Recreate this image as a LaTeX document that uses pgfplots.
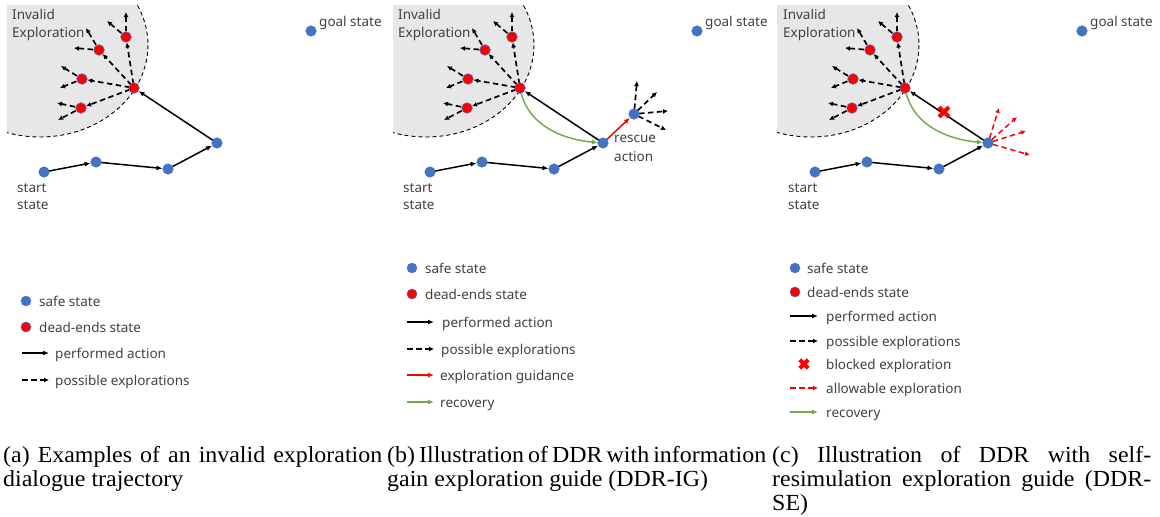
\documentclass[border=0pt]{standalone}
\usepackage{fontspec}
\setmainfont{Liberation Serif}
\newfontfamily\diagfont{Noto Sans}
\newfontfamily\capfont{Liberation Serif}[FakeStretch=1.04]
\usepackage{pgfplots}
\usepackage{pgfplotstable}
\pgfplotsset{compat=1.18}
\usetikzlibrary{arrows.meta}

\definecolor{nodeblue}{RGB}{68,114,196}
\definecolor{deadred}{RGB}{255,0,0}
\definecolor{recgreen}{RGB}{112,173,71}
\definecolor{regiongray}{RGB}{231,231,231}
\definecolor{txt}{RGB}{64,64,64}

% node positions of panel (a); panels (b) and (c) are shifted by 386 and 771
\pgfplotstableread{
x y
44 172
96 162
168 169
217 143
311 31
}\safe
\pgfplotstableread{
x y
134 88
126 37
99 50
82 79
81 108
}\dead
% arrows: start point and offset
\pgfplotstableread{
x y u v
44 172 52 -10
96 162 72 7
168 169 49 -26
217 143 -83 -55
}\performed
\pgfplotstableread{
x y u v
134 88 -8 -51
134 88 -35 -38
134 88 -52 -9
134 88 -53 20
}\firstexpl
\pgfplotstableread{
x y u v
126 37 0 -25
126 37 -19 -16
99 50 -13 -22
99 50 -25 -2
82 79 -21 -13
82 79 -22 9
81 108 -24 -5
81 108 -23 12
}\secondexpl
\pgfplotstableread{
x y u v
634 114 3 -33
634 114 23 -22
634 114 34 -3
634 114 32 16
}\rescueexpl
\pgfplotstableread{
x y u v
988 143 11 -35
988 143 29 -26
988 143 38 -12
988 143 42 12
}\allowexpl

\tikzset{
  perf/.style={black, line width=1.5pt, -{Latex[length=6pt,width=5pt]}},
  expl/.style={black, line width=1.7pt, dash pattern=on 5.5pt off 3.5pt, -{Latex[length=5pt,width=5pt]}},
  allow/.style={deadred, line width=1.5pt, dash pattern=on 5.5pt off 3.5pt, -{Latex[length=5pt,width=5pt]}},
  guide/.style={deadred, line width=1.5pt, -{Latex[length=6pt,width=5pt]}},
  recov/.style={recgreen, line width=1.5pt, -{Latex[length=6pt,width=5pt]}},
  regionline/.style={draw=black, fill=regiongray, line width=0.9pt, dash pattern=on 4pt off 3pt},
  lbl/.style={anchor=base west, inner sep=0pt, text=txt, font=\diagfont\fontsize{13.5}{16}\selectfont},
  captxt/.style={anchor=base west, inner sep=0pt, text=black, font=\capfont\fontsize{23}{24}\selectfont},
}
\newcommand\capline[1]{\hbox to 379pt{\spaceskip=0.25em plus 0.6em minus 0.2em #1}}

\begin{document}
\begin{tikzpicture}
\begin{axis}[
  width=1160pt, height=517pt, scale only axis,
  xmin=0, xmax=1160, ymin=0, ymax=517, y dir=reverse,
  hide axis, clip=false,
]
% invalid exploration regions
\begin{scope}
\clip (axis cs:7,5) rectangle (axis cs:200,200);
\draw[regionline] (axis cs:40,45) ellipse [x radius=108, y radius=92];
\end{scope}
\begin{scope}
\clip (axis cs:393,5) rectangle (axis cs:586,200);
\draw[regionline] (axis cs:426,45) ellipse [x radius=108, y radius=92];
\end{scope}
\begin{scope}
\clip (axis cs:777,5) rectangle (axis cs:970,200);
\draw[regionline] (axis cs:811,45) ellipse [x radius=108, y radius=92];
\end{scope}

% shared arrows
\pgfplotsinvokeforeach{0,386,771}{
  \addplot[perf, shorten <=3pt, shorten >=5.5pt, quiver={u=\thisrow{u}, v=\thisrow{v}}]
    table[x expr=\thisrow{x}+#1, y=y] {\performed};
  \addplot[expl, shorten <=4pt, shorten >=5.5pt, quiver={u=\thisrow{u}, v=\thisrow{v}}]
    table[x expr=\thisrow{x}+#1, y=y] {\firstexpl};
  \addplot[expl, shorten <=6pt, quiver={u=\thisrow{u}, v=\thisrow{v}}]
    table[x expr=\thisrow{x}+#1, y=y] {\secondexpl};
}
% panel (b)
\draw[recov, shorten >=5pt] (axis cs:520,88) to[out=-80, in=175] (axis cs:603,143);
\addplot[guide, shorten <=4pt, shorten >=5.5pt] coordinates {(603,143) (634,114)};
\addplot[expl, shorten <=5pt, quiver={u=\thisrow{u}, v=\thisrow{v}}] table[x=x, y=y] {\rescueexpl};
% panel (c)
\draw[recov, shorten >=5pt] (axis cs:905,88) to[out=-80, in=175] (axis cs:988,143);
\addplot[allow, shorten <=5pt, quiver={u=\thisrow{u}, v=\thisrow{v}}] table[x=x, y=y] {\allowexpl};
\addplot[only marks, mark=x, mark size=7pt, mark options={draw=deadred, line width=4pt}] coordinates {(944,112)};

% states
\pgfplotsinvokeforeach{0,386,771}{
  \addplot[only marks, mark=*, mark size=5.3pt, mark options={fill=nodeblue, draw=nodeblue}]
    table[x expr=\thisrow{x}+#1, y=y] {\safe};
  \addplot[only marks, mark=*, mark size=5.3pt, mark options={fill=deadred, draw=nodeblue, line width=0.6pt}]
    table[x expr=\thisrow{x}+#1, y=y] {\dead};
}
\addplot[only marks, mark=*, mark size=5.3pt, mark options={fill=nodeblue, draw=nodeblue}] coordinates {(634,114)};

% labels
\node[lbl] at (axis cs:12,19) {Invalid};
\node[lbl] at (axis cs:12,37) {Exploration};
\node[lbl] at (axis cs:319,26) {goal state};
\node[lbl] at (axis cs:17,192) {start};
\node[lbl] at (axis cs:17,209) {state};
\node[lbl] at (axis cs:398,19) {Invalid};
\node[lbl] at (axis cs:398,37) {Exploration};
\node[lbl] at (axis cs:705,26) {goal state};
\node[lbl] at (axis cs:403,192) {start};
\node[lbl] at (axis cs:403,209) {state};
\node[lbl] at (axis cs:614,142) {rescue};
\node[lbl] at (axis cs:614,161) {action};
\node[lbl] at (axis cs:783,19) {Invalid};
\node[lbl] at (axis cs:783,37) {Exploration};
\node[lbl] at (axis cs:1090,26) {goal state};
\node[lbl] at (axis cs:788,192) {start};
\node[lbl] at (axis cs:788,209) {state};

% legend (a)
\addplot[only marks, mark=*, mark size=5pt, mark options={fill=nodeblue, draw=nodeblue}] coordinates {(26,301) (412,268) (795,268)};
\addplot[only marks, mark=*, mark size=5pt, mark options={fill=deadred, draw=nodeblue, line width=0.6pt}] coordinates {(26,327) (412,294) (795,292)};
\addplot[perf, line width=1.2pt] coordinates {(22,353) (49,353)};
\addplot[expl, line width=1.3pt] coordinates {(22,380) (49,380)};
\node[lbl] at (axis cs:39,306) {safe state};
\node[lbl] at (axis cs:39,332) {dead-ends state};
\node[lbl] at (axis cs:55,358) {performed action};
\node[lbl] at (axis cs:55,385) {possible explorations};
% legend (b)
\addplot[perf, line width=1.2pt] coordinates {(407,322) (434,322)};
\addplot[expl, line width=1.3pt] coordinates {(407,349) (434,349)};
\addplot[guide, line width=1.2pt] coordinates {(407,375) (434,375)};
\addplot[recov, line width=1.2pt] coordinates {(407,402) (434,402)};
\node[lbl] at (axis cs:425,273) {safe state};
\node[lbl] at (axis cs:425,299) {dead-ends state};
\node[lbl] at (axis cs:442,327) {performed action};
\node[lbl] at (axis cs:441,354) {possible explorations};
\node[lbl] at (axis cs:440,380) {exploration guidance};
\node[lbl] at (axis cs:440,407) {recovery};
% legend (c)
\addplot[perf, line width=1.2pt] coordinates {(790,316) (818,316)};
\addplot[expl, line width=1.3pt] coordinates {(790,341) (818,341)};
\addplot[only marks, mark=x, mark size=6pt, mark options={draw=deadred, line width=4pt}] coordinates {(804,364)};
\addplot[allow, line width=1.3pt] coordinates {(790,388) (818,388)};
\addplot[recov, line width=1.2pt] coordinates {(790,412) (818,412)};
\node[lbl] at (axis cs:807,273) {safe state};
\node[lbl] at (axis cs:807,297) {dead-ends state};
\node[lbl] at (axis cs:826,321) {performed action};
\node[lbl] at (axis cs:826,346) {possible explorations};
\node[lbl] at (axis cs:826,369) {blocked exploration};
\node[lbl] at (axis cs:826,393) {allowable exploration};
\node[lbl] at (axis cs:826,417) {recovery};

% captions
\node[captxt] at (axis cs:3,462) {\capline{(a) Examples of an invalid exploration}};
\node[captxt] at (axis cs:3,486) {dialogue trajectory};
\node[captxt] at (axis cs:387,462) {\capline{(b) Illustration of DDR with information}};
\node[captxt] at (axis cs:387,486) {gain exploration guide (DDR-IG)};
\node[captxt] at (axis cs:772,462) {\capline{(c) Illustration of DDR with self-}};
\node[captxt] at (axis cs:772,486) {\capline{resimulation exploration guide (DDR-}};
\node[captxt] at (axis cs:772,510) {SE)};
\end{axis}
\pgfresetboundingbox
\useasboundingbox (current axis.south west) rectangle (current axis.north east);
\end{tikzpicture}
\end{document}
